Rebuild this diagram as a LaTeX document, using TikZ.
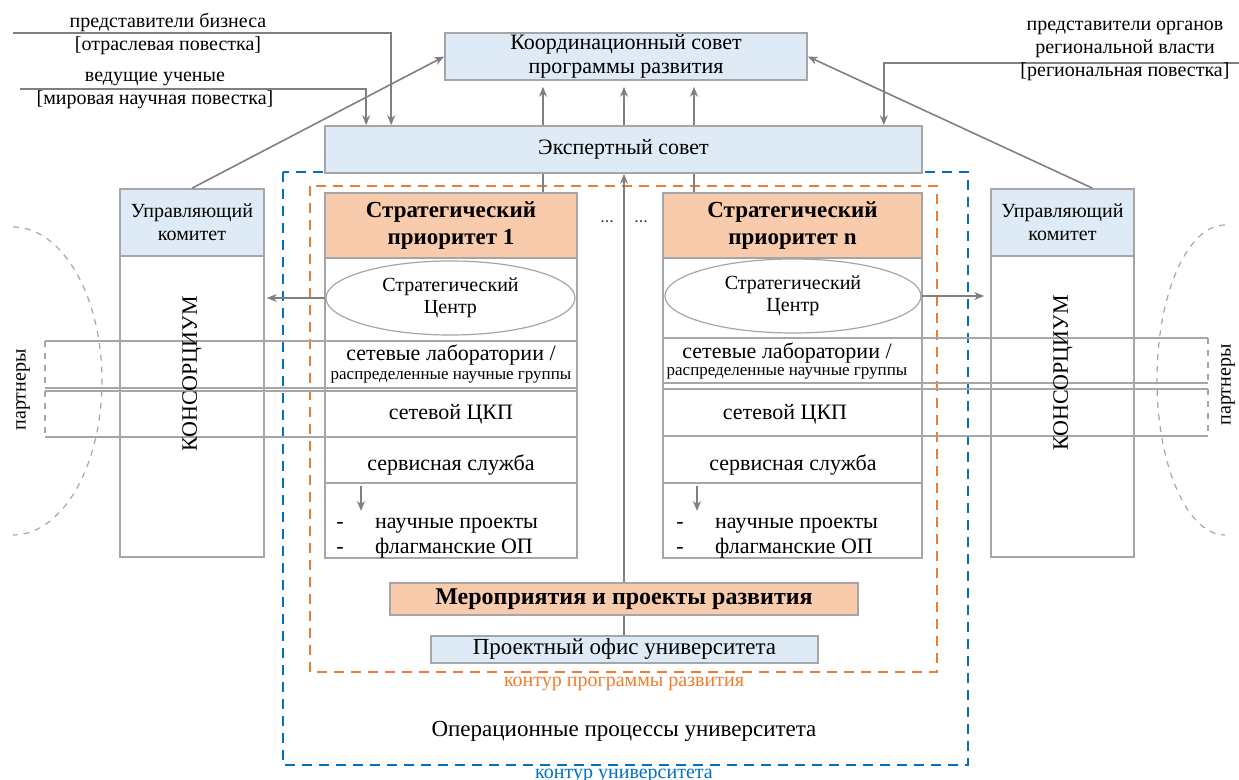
\documentclass[tikz,border=0pt]{standalone}
\usepackage{fontspec}
\setmainfont{Liberation Serif}
\usetikzlibrary{calc,positioning,shapes.geometric,arrows.meta}
\definecolor{paleblue}{HTML}{DEEBF7}
\definecolor{paleorange}{HTML}{F8CBAD}
\definecolor{edgegray}{HTML}{A6A6A6}
\definecolor{arrgray}{HTML}{808080}
\definecolor{progorange}{HTML}{ED7D31}
\definecolor{univblue}{HTML}{0070C0}

\begin{document}
\begin{tikzpicture}[x=0.5pt,y=-0.5pt,>={Stealth[length=5pt,width=4pt]},
  font=\fontsize{11}{12}\selectfont,
  box/.style={draw=edgegray,line width=0.8pt,inner sep=0pt,align=center},
  bluebox/.style={box,fill=paleblue},
  orangebox/.style={box,fill=paleorange,font=\fontsize{11.5}{13.5}\selectfont\bfseries},
  whitebox/.style={box,fill=white},
  centre/.style={ellipse,draw=edgegray,line width=0.6pt,fill=white,inner sep=0pt,align=center,
    minimum height=37pt,font=\fontsize{10}{11}\selectfont},
  arr/.style={->,draw=arrgray,line width=0.8pt},
  ln/.style={draw=arrgray,line width=0.8pt},
  rowline/.style={draw=edgegray,line width=0.6pt},
  lbl/.style={font=\fontsize{10}{11.5}\selectfont,align=center,inner sep=0pt},
  contour/.style={line width=1.4pt,dash pattern=on 5pt off 3.5pt},
]
\useasboundingbox (0,0) rectangle (1239,780);

% contours
\draw[contour,univblue] (283,172) rectangle (968,765);
\draw[contour,progorange] (310,186) rectangle (937,672);
\node[lbl,text=progorange] (progt) at (624,684) {контур программы развития};
\node[lbl,text=univblue] (univt) at (624,776) {контур университета};
\node[font=\fontsize{11.5}{13}\selectfont] (oper) at (624,731) {Операционные процессы университета};

% councils
\node[bluebox,minimum width=181pt,minimum height=23.5pt] (koord) at (626,56.5) {Координационный совет\\программы развития};
\node[bluebox,minimum width=298.5pt,minimum height=23.5pt] (expert) at (623.5,149.5) {Экспертный совет};

% strategic priorities
\node[orangebox,minimum width=126pt,minimum height=32.5pt] (pr1) at (451,225.5) {Стратегический\\приоритет 1};
\node[whitebox,minimum width=126pt,minimum height=150pt] (col1) at (451,408) {};
\node[orangebox,minimum width=129.5pt,minimum height=32.5pt] (prn) at (792.5,225.5) {Стратегический\\приоритет n};
\node[whitebox,minimum width=129.5pt,minimum height=150pt] (coln) at (792.5,408) {};
\node[centre,minimum width=124.5pt] (sc1) at (450.5,298) {Стратегический\\Центр};
\node[centre,minimum width=128pt] (scn) at (793,296) {Стратегический\\Центр};

% consortia
\node[bluebox,minimum width=72pt,minimum height=33.5pt,font=\fontsize{10}{11.5}\selectfont] (ucL) at (192,222.5) {Управляющий\\комитет};
\node[whitebox,minimum width=72pt,minimum height=150.5pt] (consL) at (192,406.5) {};
\node[bluebox,minimum width=71.5pt,minimum height=33.5pt,font=\fontsize{10}{11.5}\selectfont] (ucR) at (1062.5,222.5) {Управляющий\\комитет};
\node[whitebox,minimum width=71.5pt,minimum height=150.5pt] (consR) at (1062.5,406.5) {};

% partner bands
\draw[rowline] (577,341) -- (45,341);
\draw[rowline,dashed] (45,341) -- (45,388);
\draw[rowline] (45,388) -- (577,388);
\draw[rowline] (577,391) -- (45,391);
\draw[rowline,dashed] (45,391) -- (45,437);
\draw[rowline] (45,437) -- (577,437);
\draw[rowline] (663,338) -- (1208,338);
\draw[rowline,dashed] (1208,338) -- (1208,383);
\draw[rowline] (1208,383) -- (663,383);
\draw[rowline] (663,389) -- (1208,389);
\draw[rowline,dashed] (1208,389) -- (1208,436);
\draw[rowline] (1208,436) -- (663,436);
\draw[rowline,line width=1.2pt] (325,483) -- (577,483);
\draw[rowline,line width=1.2pt] (663,483) -- (922,483);
\draw[edgegray,dashed,line width=0.6pt] (13,227) arc[start angle=90,end angle=-90,x radius=44.5pt,y radius=77pt];
\draw[edgegray,dashed,line width=0.6pt] (1225,225) arc[start angle=90,end angle=270,x radius=34pt,y radius=77.5pt];
\node[lbl,rotate=90] (partL) at (23,390) {партнеры};
\node[lbl,rotate=90] (partR) at (1228,385) {партнеры};
\node[rotate=90] (consLt) at (192,374) {КОНСОРЦИУМ};
\node[rotate=90] (consRt) at (1063,373) {КОНСОРЦИУМ};

% rows of priority 1
\node (lab1) at (451,355) {сетевые лаборатории /};
\node[font=\fontsize{8.5}{9}\selectfont] (grp1) at (451,377) {распределенные научные группы};
\node (ckp1) at (451,414) {сетевой ЦКП};
\node (srv1) at (451,465) {сервисная служба};
\coordinate (a1s) at (361,486);
\coordinate (a1e) at (361,511);
\draw[arr] (a1s) -- (a1e);
\node[anchor=base] (d1a) at (340,529) {-};
\node[anchor=base west] (np1) at (368,529) {научные проекты};
\node[anchor=base] (d1b) at (340,554) {-};
\node[anchor=base west] (fp1) at (368,554) {флагманские ОП};

% rows of priority n
\node (labn) at (787,353) {сетевые лаборатории /};
\node[font=\fontsize{8.5}{9}\selectfont] (grpn) at (787,373) {распределенные научные группы};
\node (ckpn) at (785,414) {сетевой ЦКП};
\node (srvn) at (793,465) {сервисная служба};
\coordinate (ans) at (697,486);
\coordinate (ane) at (697,511);
\draw[arr] (ans) -- (ane);
\node[anchor=base] (dna) at (680,529) {-};
\node[anchor=base west] (npn) at (708,529) {научные проекты};
\node[anchor=base] (dnb) at (680,554) {-};
\node[anchor=base west] (fpn) at (708,554) {флагманские ОП};

\node[font=\fontsize{9}{10}\selectfont,text=darkgray] (dotsA) at (607,222) {...};
\node[font=\fontsize{9}{10}\selectfont,text=darkgray] (dotsB) at (641,222) {...};

% links up to the councils
\coordinate (c1) at (543,0);
\coordinate (cn) at (694,0);
\coordinate (cm) at (624,0);
\draw[ln] (pr1.north -| c1) -- (expert.south -| c1);
\draw[ln] (prn.north -| cn) -- (expert.south -| cn);
\draw[arr,shorten >=3pt] (expert.north -| c1) -- (koord.south -| c1);
\draw[arr,shorten >=3pt] (expert.north -| cm) -- (koord.south -| cm);
\draw[arr,shorten >=3pt] (expert.north -| cn) -- (koord.south -| cn);
\draw[arr] (ucL.north) -- (koord.west);
\draw[arr] ([xshift=15pt]ucR.north) -- (koord.east);
\draw[arr,shorten >=1pt] (sc1.west) -- (sc1.west -| consL.east);
\draw[arr,shorten >=3pt] (scn.east) -- (scn.east -| consR.west);

% programme office and projects
\node[bluebox,minimum width=193.5pt,minimum height=13.5pt,font=\fontsize{11.5}{13}\selectfont] (office) at (624.5,649.5) {Проектный офис университета};
\draw[arr] (office.north -| cm) -- (expert.south -| cm);
\node[orangebox,minimum width=234pt,minimum height=16pt,font=\fontsize{12}{13}\selectfont\bfseries] (merop) at (624,599) {Мероприятия и проекты развития};

% outside stakeholders
\coordinate (bizin) at (13,33);
\coordinate (sciin) at (20,89);
\coordinate (regin) at (1239,63);
\draw[arr] (bizin) -| ([xshift=33.5pt]expert.north west);
\draw[arr] (sciin) -| ([xshift=21pt]expert.north west);
\draw[arr] (regin) -| ([xshift=-19.5pt]expert.north east);
\node[lbl] (bizt) at (168,33.5) {представители бизнеса\\{[}отраслевая повестка{]}};
\node[lbl] (scit) at (155,90) {ведущие ученые\\{[}мировая научная повестка{]}};
\node[lbl] (regt) at (1125,50.5) {представители органов\\региональной власти\\{[}региональная повестка{]}};
\end{tikzpicture}
\end{document}
